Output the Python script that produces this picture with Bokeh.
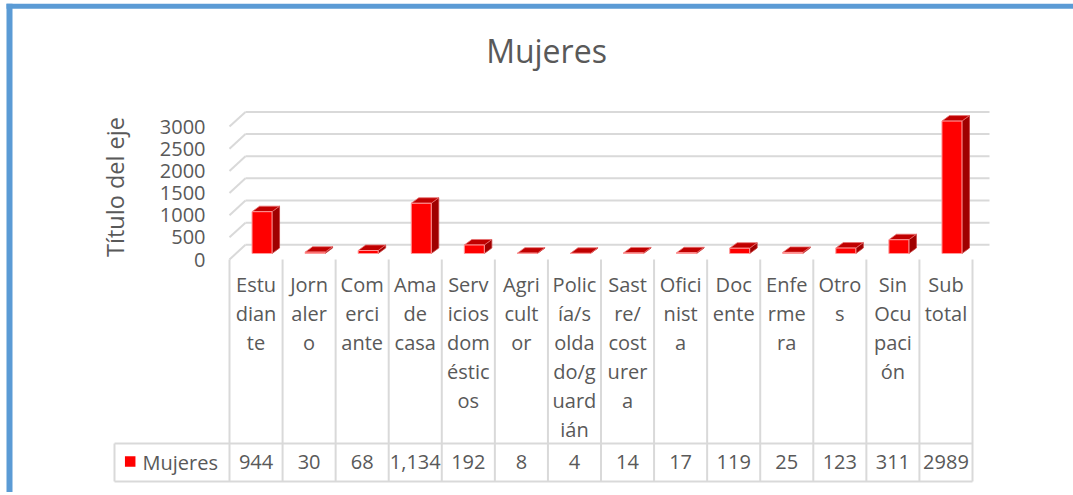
import math
from bokeh.plotting import figure
from bokeh.models import Range1d
from bokeh.core.properties import value
from bokeh.embed import file_html
from bokeh.resources import INLINE

# ---------------- data ----------------
categories = ["Estudiante", "Jornalero", "Comerciante", "Ama de casa",
              "Servicios domésticos", "Agricultor", "Policía/soldado/guardián",
              "Sastre/costurera", "Oficinista", "Docente", "Enfermera", "Otros",
              "Sin Ocupación", "Subtotal"]
header_lines = [["Estu", "dian", "te"], ["Jorn", "aler", "o"], ["Com", "erci", "ante"],
                ["Ama", "de", "casa"], ["Serv", "icios", "dom", "éstic", "os"],
                ["Agri", "cult", "or"], ["Polic", "ía/s", "olda", "do/g", "uard", "ián"],
                ["Sast", "re/", "cost", "urer", "a"], ["Ofici", "nist", "a"],
                ["Doc", "ente"], ["Enfe", "rme", "ra"], ["Otro", "s"],
                ["Sin", "Ocu", "paci", "ón"], ["Sub", "total"]]
mujeres = [944, 30, 68, 1134, 192, 8, 4, 14, 17, 119, 25, 123, 311, 2989]
value_labels = ["944", "30", "68", "1,134", "192", "8", "4", "14", "17", "119",
                "25", "123", "311", "2989"]
y_ticks = [0, 500, 1000, 1500, 2000, 2500, 3000]
series_name = "Mujeres"
chart_title = "Mujeres"
axis_title = "Título del eje"

# ---------------- layout / style ----------------
W, H = 1073, 492
PAGE = 0
FRONT_LEFT, FRONT_RIGHT = 229, 972
FLOOR_Y = 259
PX_PER_VAL = 0.0443
n = len(categories)
col_px = (FRONT_RIGHT - FRONT_LEFT) / n

def ux(px):
    return px / col_px

def uv(px):
    return px / PX_PER_VAL

FONT = value("Open Sans")
TXT = "#595959"
GRID = "#D9D9D9"

p = figure(width=W, height=H, output_backend="svg", toolbar_location=None,
           x_range=Range1d((PAGE - FRONT_LEFT) / col_px, (PAGE + W - FRONT_LEFT) / col_px),
           y_range=Range1d((FLOOR_Y - (PAGE + H)) / PX_PER_VAL, (FLOOR_Y - PAGE) / PX_PER_VAL),
           x_axis_type=None, y_axis_type=None, min_border=0,
           outline_line_color=None, background_fill_color="white",
           border_fill_color="white")
p.extra_x_ranges = {"px": Range1d(PAGE, PAGE + W)}
p.extra_y_ranges = {"py": Range1d(PAGE + H, PAGE)}

# blue frame (top + left)
p.quad(left=[6], right=[PAGE + W], top=[3.3], bottom=[8.3],
       x_range_name="px", y_range_name="py", fill_color="#5B9BD5", line_color=None)
p.quad(left=[6], right=[12], top=[3.3], bottom=[PAGE + H],
       x_range_name="px", y_range_name="py", fill_color="#5B9BD5", line_color=None)

# back wall gridlines and side-wall diagonals
BACK_DX_L, BACK_DX_R, BACK_DY = 16, 17, 14.7
p.segment(x0=[ux(BACK_DX_L)] * len(y_ticks), y0=[t + uv(BACK_DY) for t in y_ticks],
          x1=[n + ux(BACK_DX_R)] * len(y_ticks), y1=[t + uv(BACK_DY) for t in y_ticks],
          line_color=GRID, line_width=2)
p.segment(x0=[0] * len(y_ticks), y0=y_ticks,
          x1=[ux(BACK_DX_L)] * len(y_ticks), y1=[t + uv(BACK_DY) for t in y_ticks],
          line_color=GRID, line_width=2)

# 3D bars
BAR_DX, BAR_DY, HALF_W, SDX, SDY = 6, 6, 10, 7.5, 5.5
lefts, rights, bottoms, tops = [], [], [], []
for i, v in enumerate(mujeres):
    cx = i + 0.5 + ux(BAR_DX)
    lefts.append(cx - ux(HALF_W))
    rights.append(cx + ux(HALF_W))
    bottoms.append(uv(BAR_DY))
    tops.append(uv(BAR_DY) + v)
side_xs = [[r, r + ux(SDX), r + ux(SDX), r] for r in rights]
side_ys = [[b, b + uv(SDY), t + uv(SDY), t] for b, t in zip(bottoms, tops)]
top_xs = [[l, r, r + ux(SDX), l + ux(SDX)] for l, r in zip(lefts, rights)]
top_ys = [[t, t, t + uv(SDY), t + uv(SDY)] for t in tops]
p.patches(side_xs, side_ys, fill_color="#A00000", line_color="#C84040", line_width=0.8)
p.patches(top_xs, top_ys, fill_color="#C00000", line_color="#E87070", line_width=0.8)
p.quad(left=lefts, right=rights, bottom=bottoms, top=tops,
       fill_color="#FF0000", line_color="#FF9A9A", line_width=1)

# y tick labels (front plane)
p.text(x=[205] * len(y_ticks), y=y_ticks, text=[str(t) for t in y_ticks],
       x_range_name="px", text_font=FONT, text_font_size="20px", text_color=TXT,
       text_align="right", text_baseline="middle")

# axis title
p.text(x=[114], y=[186.5], text=[axis_title], angle=math.pi / 2,
       x_range_name="px", y_range_name="py", text_font=FONT, text_font_size="23.5px",
       text_color=TXT, text_align="center", text_baseline="middle")

# chart title
p.text(x=[546], y=[50], text=[chart_title], x_range_name="px", y_range_name="py",
       text_font=FONT, text_font_size="32px", text_color=TXT,
       text_align="center", text_baseline="middle")

# ---------------- data table ----------------
TABLE_LEFT, ROW_TOP, ROW_BOTTOM = 114, 443, 481
HEAD_MID, LINE_H, VAL_MID = 283.5, 29, 461.7

p.segment(x0=list(range(n + 1)), y0=[FLOOR_Y] * (n + 1),
          x1=list(range(n + 1)), y1=[ROW_BOTTOM] * (n + 1),
          y_range_name="py", line_color=GRID, line_width=2)
p.segment(x0=[TABLE_LEFT, TABLE_LEFT, TABLE_LEFT], y0=[ROW_TOP, ROW_BOTTOM, ROW_TOP],
          x1=[FRONT_LEFT + n * col_px, FRONT_LEFT + n * col_px, TABLE_LEFT],
          y1=[ROW_TOP, ROW_BOTTOM, ROW_BOTTOM],
          x_range_name="px", y_range_name="py", line_color=GRID, line_width=2)

hx, hy, ht = [], [], []
for i, lines in enumerate(header_lines):
    for j, s in enumerate(lines):
        hx.append(i + 0.5)
        hy.append(HEAD_MID + j * LINE_H)
        ht.append(s)
p.text(x=hx, y=hy, text=ht, y_range_name="py", text_font=FONT, text_font_size="20px",
       text_color=TXT, text_align="center", text_baseline="middle")

p.text(x=[i + 0.5 for i in range(n)], y=[VAL_MID] * n, text=value_labels,
       y_range_name="py", text_font=FONT, text_font_size="20px", text_color=TXT,
       text_align="center", text_baseline="middle")

# legend key in table
p.rect(x=[129.7], y=[460.9], width=[10.5], height=[10.5], x_range_name="px",
       y_range_name="py", fill_color="#FF0000", line_color=None)
p.text(x=[142], y=[VAL_MID], text=[series_name], x_range_name="px", y_range_name="py",
       text_font=FONT, text_font_size="20px", text_color=TXT,
       text_align="left", text_baseline="middle")

open("out.html", "w").write(file_html(p, INLINE))
